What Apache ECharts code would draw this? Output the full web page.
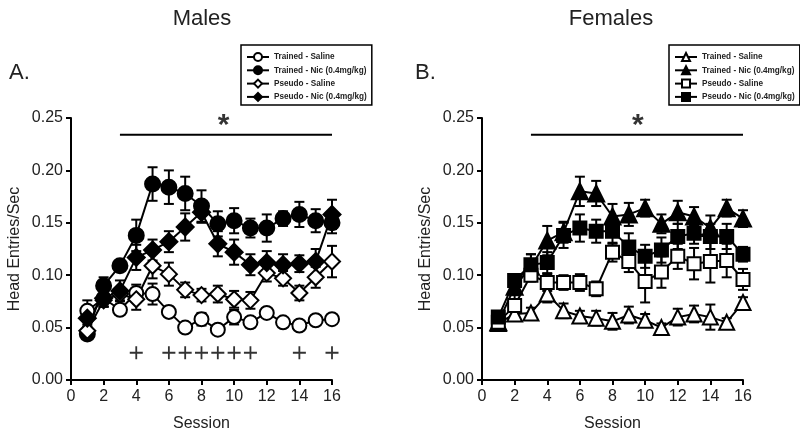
<!DOCTYPE html>
<html>
<head>
<meta charset="utf-8">
<script src="https://cdn.jsdelivr.net/npm/echarts@6/dist/echarts.min.js"></script>
<style>
  html, body { margin: 0; padding: 0; background: #fff; }
  #chart { width: 800px; height: 438px; }
</style>
</head>
<body>
<div id="chart"></div>
<script>
// sessions 1..16
var sessions = [1, 2, 3, 4, 5, 6, 7, 8, 9, 10, 11, 12, 13, 14, 15, 16];

// Males (panel A)
var mTrainedSal = [0.066, 0.078, 0.067, 0.083, 0.082, 0.065, 0.050, 0.058, 0.048, 0.060, 0.055, 0.064, 0.055, 0.052, 0.057, 0.058];
var mTrainedSalErr = [0.010, 0.008, 0.005, 0.008, 0.010, 0.005, 0.004, 0.006, 0.004, 0.007, 0.005, 0.004, 0.004, 0.004, 0.004, 0.004];
var mTrainedNic = [0.044, 0.090, 0.109, 0.138, 0.187, 0.184, 0.178, 0.166, 0.149, 0.152, 0.145, 0.145, 0.154, 0.158, 0.152, 0.150];
var mTrainedNicErr = [0.004, 0.008, 0.005, 0.015, 0.016, 0.016, 0.016, 0.015, 0.012, 0.012, 0.009, 0.013, 0.007, 0.012, 0.011, 0.010];
var mPseudoSal = [0.047, 0.076, 0.082, 0.077, 0.109, 0.101, 0.086, 0.081, 0.082, 0.077, 0.076, 0.102, 0.097, 0.083, 0.098, 0.113];
var mPseudoSalErr = [0.004, 0.006, 0.006, 0.010, 0.012, 0.011, 0.007, 0.006, 0.008, 0.008, 0.008, 0.008, 0.007, 0.007, 0.010, 0.015];
var mPseudoNic = [0.059, 0.078, 0.085, 0.117, 0.124, 0.132, 0.146, 0.160, 0.130, 0.122, 0.110, 0.112, 0.110, 0.111, 0.113, 0.158];
var mPseudoNicErr = [0.006, 0.008, 0.010, 0.012, 0.010, 0.010, 0.013, 0.010, 0.012, 0.012, 0.010, 0.011, 0.010, 0.008, 0.012, 0.014];
var mPlusSessions = [4, 6, 7, 8, 9, 10, 11, 14, 16];

// Females (panel B)
var fTrainedSal = [0.054, 0.063, 0.064, 0.082, 0.066, 0.061, 0.059, 0.056, 0.062, 0.057, 0.050, 0.060, 0.063, 0.060, 0.055, 0.074];
var fTrainedSalErr = [0.004, 0.005, 0.005, 0.008, 0.007, 0.005, 0.007, 0.008, 0.008, 0.006, 0.004, 0.008, 0.008, 0.012, 0.004, 0.005];
var fTrainedNic = [0.055, 0.089, 0.108, 0.133, 0.141, 0.180, 0.178, 0.156, 0.158, 0.164, 0.149, 0.160, 0.156, 0.145, 0.164, 0.154];
var fTrainedNicErr = [0.004, 0.008, 0.012, 0.014, 0.010, 0.014, 0.012, 0.012, 0.011, 0.008, 0.009, 0.011, 0.009, 0.012, 0.008, 0.008];
var fPseudoSal = [0.055, 0.071, 0.100, 0.093, 0.093, 0.093, 0.087, 0.122, 0.113, 0.094, 0.103, 0.118, 0.111, 0.113, 0.114, 0.096];
var fPseudoSalErr = [0.004, 0.010, 0.006, 0.008, 0.007, 0.008, 0.007, 0.009, 0.010, 0.020, 0.015, 0.012, 0.015, 0.020, 0.016, 0.010];
var fPseudoNic = [0.060, 0.095, 0.110, 0.112, 0.138, 0.145, 0.142, 0.142, 0.127, 0.118, 0.124, 0.137, 0.140, 0.137, 0.137, 0.120];
var fPseudoNicErr = [0.004, 0.006, 0.010, 0.010, 0.012, 0.013, 0.011, 0.012, 0.013, 0.011, 0.012, 0.012, 0.010, 0.012, 0.012, 0.007];

// significance bar and star (same in both panels)
var sigRange = [3, 16];
var sigY = 0.234;
var starPos = [[9.35, 0.243], [9.55, 0.243]];
var plusY = 0.026;

var FONT = 'Arial, "Liberation Sans", sans-serif';

function pairs(vals) {
    return sessions.map(function (s, i) { return [s, vals[i]]; });
}

function errData(vals, errs) {
    return sessions.map(function (s, i) { return [s, vals[i] - errs[i], vals[i] + errs[i]]; });
}

function errSeries(idx, vals, errs) {
    return {
        type: 'custom',
        xAxisIndex: idx,
        yAxisIndex: idx,
        z: 1,
        silent: true,
        data: errData(vals, errs),
        renderItem: function (params, api) {
            var x = api.value(0);
            var lo = api.coord([x, api.value(1)]);
            var hi = api.coord([x, api.value(2)]);
            var hw = 5;
            var st = {stroke: '#000', lineWidth: 2};
            return {
                type: 'group',
                children: [
                    {type: 'line', shape: {x1: lo[0], y1: lo[1], x2: hi[0], y2: hi[1]}, style: st},
                    {type: 'line', shape: {x1: lo[0] - hw, y1: lo[1], x2: lo[0] + hw, y2: lo[1]}, style: st},
                    {type: 'line', shape: {x1: hi[0] - hw, y1: hi[1], x2: hi[0] + hw, y2: hi[1]}, style: st}
                ]
            };
        }
    };
}

function lineSeries(idx, name, vals, symbol, size, filled) {
    return {
        type: 'line',
        name: name,
        xAxisIndex: idx,
        yAxisIndex: idx,
        z: 3,
        data: pairs(vals),
        symbol: symbol,
        symbolSize: size,
        showAllSymbol: true,
        lineStyle: {color: '#000', width: 2},
        itemStyle: {color: filled ? '#000' : '#fff', borderColor: '#000', borderWidth: 2},
        emphasis: {disabled: true}
    };
}

function sigSeries(idx) {
    return [{
        type: 'line',
        xAxisIndex: idx,
        yAxisIndex: idx,
        data: [[sigRange[0], sigY], [sigRange[1], sigY]],
        symbol: 'none',
        lineStyle: {color: '#000', width: 2},
        silent: true
    }, {
        type: 'scatter',
        xAxisIndex: idx,
        yAxisIndex: idx,
        data: [starPos[idx]],
        symbolSize: 0,
        silent: true,
        label: {show: true, position: 'inside', formatter: '*', fontSize: 30, fontWeight: 'bold', color: '#000', fontFamily: FONT}
    }];
}

function xAxis(idx) {
    return {
        type: 'value', gridIndex: idx, min: 0, max: 16, interval: 2,
        name: 'Session', nameLocation: 'middle', nameGap: 36,
        nameTextStyle: {fontSize: 16, color: '#222', fontFamily: FONT},
        axisLine: {lineStyle: {color: '#000', width: 2}},
        axisTick: {show: true, length: 5, lineStyle: {color: '#000', width: 2}},
        axisLabel: {fontSize: 16, color: '#222', fontFamily: FONT, margin: 9},
        splitLine: {show: false}
    };
}

function yAxis(idx) {
    return {
        type: 'value', gridIndex: idx, min: 0, max: 0.25, interval: 0.05,
        name: 'Head Entries/Sec', nameLocation: 'middle', nameGap: 48,
        nameTextStyle: {fontSize: 16, color: '#222', fontFamily: FONT},
        axisLine: {show: true, lineStyle: {color: '#000', width: 2}},
        axisTick: {show: true, length: 5, lineStyle: {color: '#000', width: 2}},
        axisLabel: {fontSize: 16, color: '#222', fontFamily: FONT, margin: 8,
            formatter: function (v) { return v.toFixed(2); }},
        splitLine: {show: false}
    };
}

function legend(left, names) {
    return {
        orient: 'vertical',
        left: left, top: 45,
        padding: [7, 5, 3, 5],
        itemGap: 3.3,
        itemWidth: 22, itemHeight: 10,
        borderColor: '#000', borderWidth: 1.5,
        selectedMode: false,
        data: names,
        formatter: function (n) { return n.replace(/^F /, ''); },
        textStyle: {fontSize: 8.2, lineHeight: 10, fontWeight: 'bold', color: '#222', fontFamily: FONT}
    };
}

var chart = echarts.init(document.getElementById('chart'), null, {renderer: 'canvas'});

var option = {
    backgroundColor: '#fff',
    animation: false,
    title: [
        {text: 'Males', left: 197, top: 3, textAlign: 'center', textStyle: {fontSize: 22, fontWeight: 'normal', color: '#222', fontFamily: FONT}},
        {text: 'Females', left: 606, top: 3, textAlign: 'center', textStyle: {fontSize: 22, fontWeight: 'normal', color: '#222', fontFamily: FONT}},
        {text: 'A.', left: 4, top: 57, textStyle: {fontSize: 22, fontWeight: 'normal', color: '#222', fontFamily: FONT}},
        {text: 'B.', left: 410, top: 57, textStyle: {fontSize: 22, fontWeight: 'normal', color: '#222', fontFamily: FONT}}
    ],
    legend: [
        legend(241, ['Trained - Saline', 'Trained - Nic (0.4mg/kg)', 'Pseudo - Saline', 'Pseudo - Nic (0.4mg/kg)']),
        legend(669, ['F Trained - Saline', 'F Trained - Nic (0.4mg/kg)', 'F Pseudo - Saline', 'F Pseudo - Nic (0.4mg/kg)'])
    ],
    grid: [
        {left: 71, top: 118, width: 261, height: 262},
        {left: 482, top: 118, width: 261, height: 262}
    ],
    xAxis: [xAxis(0), xAxis(1)],
    yAxis: [yAxis(0), yAxis(1)],
    series: [
        errSeries(0, mTrainedSal, mTrainedSalErr),
        errSeries(0, mTrainedNic, mTrainedNicErr),
        errSeries(0, mPseudoSal, mPseudoSalErr),
        errSeries(0, mPseudoNic, mPseudoNicErr),
        lineSeries(0, 'Trained - Saline', mTrainedSal, 'circle', 14, false),
        lineSeries(0, 'Trained - Nic (0.4mg/kg)', mTrainedNic, 'circle', 15, true),
        lineSeries(0, 'Pseudo - Saline', mPseudoSal, 'diamond', 16, false),
        lineSeries(0, 'Pseudo - Nic (0.4mg/kg)', mPseudoNic, 'diamond', 17, true),
        {
            type: 'scatter', xAxisIndex: 0, yAxisIndex: 0, silent: true,
            data: mPlusSessions.map(function (s) { return [s, plusY]; }),
            symbol: 'path://M4.3,0h1.4v4.3h4.3v1.4h-4.3v4.3h-1.4v-4.3h-4.3v-1.4h4.3z',
            symbolSize: 13,
            itemStyle: {color: '#000'}
        },
        errSeries(1, fTrainedSal, fTrainedSalErr),
        errSeries(1, fTrainedNic, fTrainedNicErr),
        errSeries(1, fPseudoSal, fPseudoSalErr),
        errSeries(1, fPseudoNic, fPseudoNicErr),
        lineSeries(1, 'F Trained - Saline', fTrainedSal, 'triangle', 15, false),
        lineSeries(1, 'F Trained - Nic (0.4mg/kg)', fTrainedNic, 'triangle', 16, true),
        lineSeries(1, 'F Pseudo - Saline', fPseudoSal, 'rect', 13, false),
        lineSeries(1, 'F Pseudo - Nic (0.4mg/kg)', fPseudoNic, 'rect', 13, true)
    ].concat(sigSeries(0), sigSeries(1))
};

chart.setOption(option);
</script>
</body>
</html>
